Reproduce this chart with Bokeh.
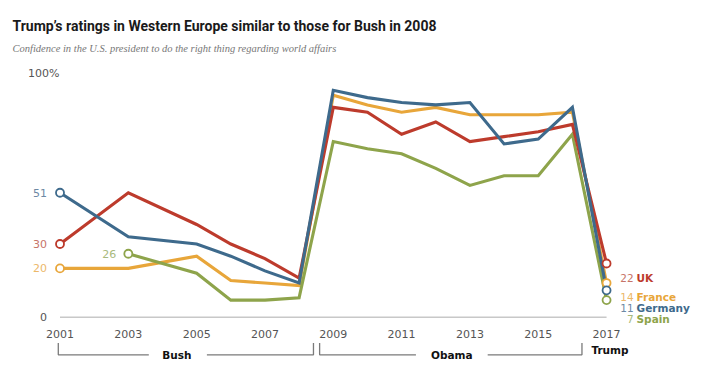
from bokeh.plotting import figure
from bokeh.models import Range1d, Label
from bokeh.core.properties import value
from bokeh.embed import file_html
from bokeh.resources import INLINE

# ---------------- data ----------------
years = [2001, 2003, 2005, 2006, 2007, 2008, 2009, 2010, 2011, 2012, 2013, 2014, 2015, 2016, 2017]
uk = [30, 51, 38, 30, 24, 16, 86, 84, 75, 80, 72, 74, 76, 79, 22]
france = [20, 20, 25, 15, 14, 13, 91, 87, 84, 86, 83, 83, 83, 84, 14]
germany = [51, 33, 30, 25, 19, 14, 93, 90, 88, 87, 88, 71, 73, 86, 11]
spain = [None, 26, 18, 7, 7, 8, 72, 69, 67, 61, 54, 58, 58, 75, 7]
countries = ["UK", "France", "Germany", "Spain"]
tick_years = [2001, 2003, 2005, 2007, 2009, 2011, 2013, 2015, 2017]
presidents = ["Bush", "Obama", "Trump"]

title = "Trump\u2019s ratings in Western Europe similar to those for Bush in 2008"
subtitle = "Confidence in the U.S. president to do the right thing regarding world affairs"

# ---------------- style ----------------
line_col = {"UK": "#bd3b2c", "France": "#e8a63a", "Germany": "#3e6a8c", "Spain": "#8ea44b"}
num_col = {"UK": "#c77468", "France": "#ecb86a", "Germany": "#6d89a4", "Spain": "#a8b97c"}
FONT = "DejaVu Sans"

PX_PER_YEAR = 34.16
X0_PX = 59.5
PX_PER_UNIT = 2.44
Y0_PX = 316.7
W, H = 720, 376

x_start = 2001 - X0_PX / PX_PER_YEAR
x_end = 2001 + (W - X0_PX) / PX_PER_YEAR
y_start = -(H - Y0_PX) / PX_PER_UNIT
y_end = Y0_PX / PX_PER_UNIT

p = figure(width=W, height=H, x_range=Range1d(x_start, x_end), y_range=Range1d(y_start, y_end),
           output_backend="svg", toolbar_location=None, min_border=0,
           x_axis_location=None, y_axis_location=None)
p.grid.visible = False
p.outline_line_color = None
p.background_fill_color = "white"
p.border_fill_color = "white"

# title / subtitle
p.add_layout(Label(x=12, y=H - 25, x_units="screen", y_units="screen", text=title,
                   text_font="Roboto", text_font_style="bold",
                   text_font_size="14px", text_color="#1a1a1a", text_baseline="alphabetic"))
p.add_layout(Label(x=12, y=H - 48, x_units="screen", y_units="screen", text=subtitle,
                   text_font="Liberation Serif", text_font_style="italic",
                   text_font_size="10.5px", text_color="#777777", text_baseline="alphabetic"))

# baseline
p.line(x=[tick_years[0], tick_years[-1]], y=[0, 0], line_color="#c8c8c8", line_width=1.5)

# y labels
p.text(x=[2001], y=[100], text=["100%"], x_offset=-32, text_font=value(FONT), text_font_size="11px",
       text_color="#555555", text_align="left", text_baseline="middle")
p.text(x=[2001], y=[0], text=["0"], x_offset=-13, text_font=value(FONT), text_font_size="11px",
       text_color="#555555", text_align="right", text_baseline="middle")

# x tick labels
p.text(x=tick_years, y=[0] * len(tick_years), text=[str(t) for t in tick_years], y_offset=17,
       text_font=value(FONT), text_font_size="11px", text_color="#555555",
       text_align="center", text_baseline="middle")

# president brackets
br = "#7a7a7a"
bush_l, bush_r = 2000.95, 2008.42
oba_l, oba_r = 2008.6, 2016.28
bush_gap = (2003.6, 2005.3)
oba_gap = (2011.42, 2013.52)
yb_top, yb_bot = -10.6, -15.4
p.multi_line(
    xs=[[bush_l, bush_l, bush_gap[0]], [bush_gap[1], bush_r, bush_r],
        [oba_l, oba_l, oba_gap[0]], [oba_gap[1], oba_r, oba_r]],
    ys=[[yb_top, yb_bot, yb_bot], [yb_bot, yb_bot, yb_top],
        [yb_top, yb_bot, yb_bot], [yb_bot, yb_bot, yb_top]],
    line_color=br, line_width=1.3)
p.text(x=[2004.42, 2012.47, 2017.1], y=[-15.4, -15.4, -13.6], text=presidents,
       text_font=value(FONT), text_font_style="bold", text_font_size="10.5px",
       text_color="#111111", text_align="center", text_baseline="middle")

# lines
series = {"UK": uk, "France": france, "Germany": germany, "Spain": spain}
for c in ["France", "Spain", "UK", "Germany"]:
    xs = [x for x, v in zip(years, series[c]) if v is not None]
    ys = [v for v in series[c] if v is not None]
    p.line(x=xs, y=ys, line_color=line_col[c], line_width=3.1, line_join="miter")

# endpoint circles + start labels
start_dx = {"UK": -13, "France": -13, "Germany": -13, "Spain": -12}
for c in ["France", "Spain", "UK", "Germany"]:
    xs = [x for x, v in zip(years, series[c]) if v is not None]
    ys = [v for v in series[c] if v is not None]
    p.scatter(x=[xs[0], xs[-1]], y=[ys[0], ys[-1]], size=8, fill_color="white",
              line_color=line_col[c], line_width=1.8)
    p.text(x=[xs[0]], y=[ys[0]], text=[str(ys[0])], x_offset=start_dx[c],
           text_font=value(FONT), text_font_size="11px", text_color=num_col[c],
           text_align="right", text_baseline="middle")

# end labels
end_dy = {"UK": 14, "France": 14, "Germany": 18, "Spain": 19}
for c in countries:
    v = series[c][-1]
    p.text(x=[years[-1]], y=[v], text=[str(v)], x_offset=27, y_offset=end_dy[c],
           text_font=value(FONT), text_font_size="10.5px", text_color=num_col[c],
           text_align="right", text_baseline="middle")
    p.text(x=[years[-1]], y=[v], text=[c], x_offset=30, y_offset=end_dy[c],
           text_font=value(FONT), text_font_style="bold", text_font_size="10.5px",
           text_color=line_col[c], text_align="left", text_baseline="middle")

open("out.html", "w").write(file_html(p, INLINE))
